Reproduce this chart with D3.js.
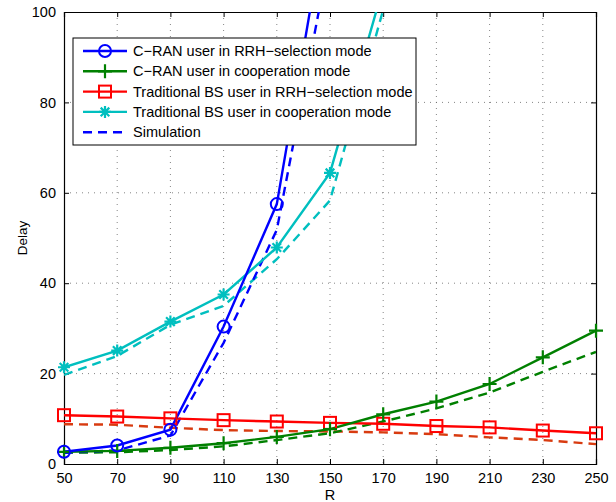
<!DOCTYPE html>
<html>
<head>
<meta charset="utf-8">
<script src="https://cdn.jsdelivr.net/npm/d3@7"></script>
<style>
  body { margin: 0; background: #fff; }
  text { font-family: "Liberation Sans", Arial, sans-serif; }
</style>
</head>
<body>
<div id="chart"></div>
<script>
const width = 616;
const height = 502;

// R values on the x axis
const R = [50, 70, 90, 110, 130, 150, 170, 190, 210, 230, 250];
const xTicks = [50, 70, 90, 110, 130, 150, 170, 190, 210, 230, 250];
const yTicks = [0, 20, 40, 60, 80, 100];

// analytic curves (solid, with markers)
const cranSel = [2.7, 4.1, 7.6, 30.4, 57.5, 126];
const cranCoop = [2.7, 2.9, 3.6, 4.6, 6.0, 7.7, 11.0, 13.8, 17.7, 23.6, 29.5];
const tradSel = [10.8, 10.5, 10.1, 9.7, 9.4, 9.1, 8.9, 8.4, 8.1, 7.4, 6.8];
const tradCoop = [21.4, 25.1, 31.5, 37.5, 47.9, 64.4, 105.5];

// simulation curves (dashed)
const simCranSel = [2.5, 3.0, 6.3, 26.8, 51.8, 113];
const simCranCoop = [2.5, 2.6, 3.1, 3.9, 5.3, 6.8, 9.4, 12.3, 15.8, 20.4, 24.8];
const simTradSel = [8.8, 8.7, 8.0, 7.5, 7.3, 7.2, 7.0, 6.6, 5.9, 5.3, 4.4];
const simTradCoop = [19.7, 23.9, 30.8, 35.0, 45.3, 58.3, 100.5];

const legendLabels = [
  "C\u2212RAN user in RRH\u2212selection mode",
  "C\u2212RAN user in cooperation mode",
  "Traditional BS user in RRH\u2212selection mode",
  "Traditional BS user in cooperation mode",
  "Simulation"
];

const margin = {top: 12, right: 20, bottom: 38, left: 64};
const plotW = width - margin.left - margin.right;
const plotH = height - margin.top - margin.bottom;

const x = d3.scaleLinear().domain([50, 250]).range([0, plotW]);
const y = d3.scaleLinear().domain([0, 100]).range([plotH, 0]);

const svg = d3.select("#chart").append("svg")
    .attr("width", width)
    .attr("height", height);

const g = svg.append("g")
    .attr("transform", `translate(${margin.left},${margin.top})`);

svg.append("defs").append("clipPath")
    .attr("id", "plot-clip")
  .append("rect")
    .attr("width", plotW)
    .attr("height", plotH);

// dotted grid
g.append("g").selectAll("line")
    .data(xTicks.slice(1, -1))
    .join("line")
    .attr("x1", d => x(d)).attr("x2", d => x(d))
    .attr("y1", 0).attr("y2", plotH)
    .attr("stroke", "#666").attr("stroke-width", 0.8)
    .attr("stroke-dasharray", "1,5");

g.append("g").selectAll("line")
    .data(yTicks.slice(1, -1))
    .join("line")
    .attr("y1", d => y(d)).attr("y2", d => y(d))
    .attr("x1", 0).attr("x2", plotW)
    .attr("stroke", "#666").attr("stroke-width", 0.8)
    .attr("stroke-dasharray", "1,5");

// axes with inward ticks
const xAxis = g.append("g")
    .attr("transform", `translate(0,${plotH})`)
    .call(d3.axisBottom(x).tickValues(xTicks).tickSize(-5).tickPadding(9).tickFormat(d3.format("d")));
const yAxis = g.append("g")
    .call(d3.axisLeft(y).tickValues(yTicks).tickSize(-5).tickPadding(8));
const xAxisTop = g.append("g")
    .call(d3.axisTop(x).tickValues(xTicks).tickSize(-5).tickFormat(""));
const yAxisRight = g.append("g")
    .attr("transform", `translate(${plotW},0)`)
    .call(d3.axisRight(y).tickValues(yTicks).tickSize(-5).tickFormat(""));

[xAxis, yAxis, xAxisTop, yAxisRight].forEach(a => {
  a.select(".domain").attr("stroke", "#000").attr("stroke-width", 1.2);
  a.selectAll(".tick line").attr("stroke", "#000");
  a.selectAll("text").attr("font-size", 14.5).attr("fill", "#000")
    .attr("font-family", "Liberation Sans, Arial, sans-serif");
});
// matlab hides the end ticks on the frame
xAxis.selectAll(".tick line").filter(d => d === 50 || d === 250).remove();
xAxisTop.selectAll(".tick line").filter(d => d === 50 || d === 250).remove();
yAxis.selectAll(".tick line").filter(d => d === 0 || d === 100).remove();
yAxisRight.selectAll(".tick line").filter(d => d === 0 || d === 100).remove();

// axis labels
svg.append("text")
    .attr("x", margin.left + x(150))
    .attr("y", 500)
    .attr("text-anchor", "middle")
    .attr("font-size", 14.5)
    .text("R");

svg.append("text")
    .attr("transform", `translate(27,${margin.top + y(50)}) rotate(-90)`)
    .attr("text-anchor", "middle")
    .attr("font-size", 13.5)
    .text("Delay");

// series
const series = [
  {vals: cranSel, color: "#0000ff", marker: "circle", dash: null},
  {vals: cranCoop, color: "#008000", marker: "plus", dash: null},
  {vals: tradSel, color: "#ff0000", marker: "square", dash: null},
  {vals: tradCoop, color: "#00bfbf", marker: "star", dash: null},
  {vals: simCranSel, color: "#0000ff", marker: null, dash: "9,6"},
  {vals: simCranCoop, color: "#008000", marker: null, dash: "9,6"},
  {vals: simTradSel, color: "#d83b10", marker: null, dash: "9,6"},
  {vals: simTradCoop, color: "#00bfbf", marker: null, dash: "9,6"}
];

const line = d3.line()
    .x(d => x(d[0]))
    .y(d => y(d[1]));

const plot = g.append("g").attr("clip-path", "url(#plot-clip)");
const markers = g.append("g");

function drawMarker(sel, type, color) {
  if (type === "circle") {
    sel.append("circle").attr("r", 6)
      .attr("fill", "none").attr("stroke", color).attr("stroke-width", 2);
  } else if (type === "square") {
    sel.append("rect").attr("x", -6).attr("y", -6).attr("width", 12).attr("height", 12)
      .attr("fill", "none").attr("stroke", color).attr("stroke-width", 2);
  } else if (type === "plus") {
    sel.append("path").attr("d", "M-7,0H7M0,-7V7")
      .attr("stroke", color).attr("stroke-width", 2.2);
  } else if (type === "star") {
    sel.append("path").attr("d", "M-6,0H6M0,-6V6M-4.3,-4.3L4.3,4.3M-4.3,4.3L4.3,-4.3")
      .attr("stroke", color).attr("stroke-width", 2.2);
  }
}

// dashed simulation curves first, then the solid ones
series.slice().reverse().forEach(s => {
  const pts = s.vals.map((v, i) => [R[i], v]);
  plot.append("path")
      .datum(pts)
      .attr("d", line)
      .attr("fill", "none")
      .attr("stroke", s.color)
      .attr("stroke-width", 2.4)
      .attr("stroke-dasharray", s.dash);
  if (s.marker) {
    markers.append("g").selectAll("g")
        .data(pts.filter(p => p[1] <= 100))
        .join("g")
        .attr("transform", p => `translate(${x(p[0])},${y(p[1])})`)
        .each(function() { drawMarker(d3.select(this), s.marker, s.color); });
  }
});

// legend
const legend = svg.append("g").attr("transform", "translate(73,38)");
legend.append("rect")
    .attr("width", 343).attr("height", 107)
    .attr("fill", "#fff").attr("stroke", "#000").attr("stroke-width", 1);

const legendSeries = [series[0], series[1], series[2], series[3], series[4]];
legendSeries.forEach((s, i) => {
  const row = legend.append("g").attr("transform", `translate(0,${13 + i * 20.3})`);
  row.append("line")
      .attr("x1", 10).attr("x2", 54)
      .attr("stroke", s.color).attr("stroke-width", 2.4)
      .attr("stroke-dasharray", s.dash);
  if (s.marker) {
    drawMarker(row.append("g").attr("transform", "translate(32,0)"), s.marker, s.color);
  }
  row.append("text")
      .attr("x", 60).attr("y", 5)
      .attr("font-size", 14.5)
      .text(legendLabels[i]);
});
</script>
</body>
</html>
